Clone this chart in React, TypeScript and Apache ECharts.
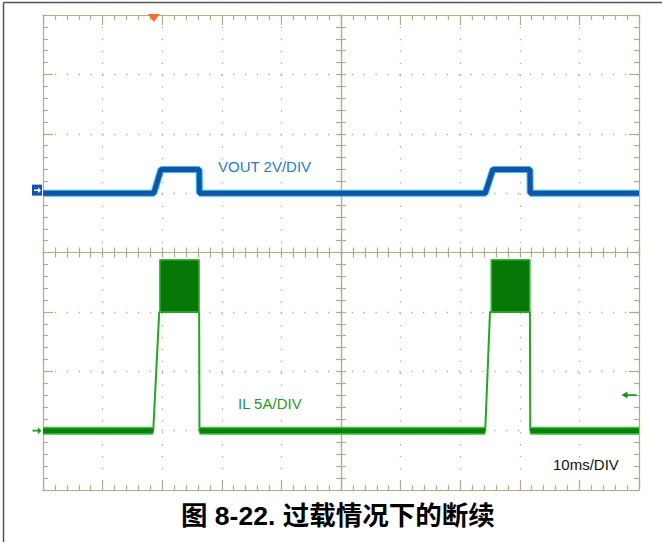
import React, { useEffect, useRef } from "react";
import * as echarts from "echarts";

// ---- Data read from the oscilloscope capture ----
const voutTimeMs = [0, 18.6, 19.8, 26.2, 26.25, 74.2, 75.5, 81.7, 81.75, 100];
const voutVolts = [0, 0, 0.8, 0.8, 0, 0, 0.8, 0.8, 0, 0];

const ilTimeMs = [0, 18.5, 19.5, 26.2, 26.25, 74.2, 75.0, 81.7, 81.75, 100];
const ilAmps = [0, 0, 10, 10, 0, 0, 10, 10, 0, 0];

const ilRippleStartMs = [19.6, 75.2];
const ilRippleEndMs = [26.2, 81.7];
const ilRippleLowAmps = 10;
const ilRippleHighAmps = 14.4;

const triggerTimeMs = 18.6;
const triggerLevelAmps = 3;

const voutScaleVPerDiv = 2;
const ilScaleAPerDiv = 5;
const voutOffsetDiv = 1.0;
const ilOffsetDiv = -3.0;

const timeMinMs = 0;
const timeMaxMs = 100;
const timeDivMs = 10;
const divMin = -4;
const divMax = 4;

const voutLabel = "VOUT 2V/DIV";
const ilLabel = "IL 5A/DIV";
const timebaseLabel = "10ms/DIV";
const caption = "图 8-22. 过载情况下的断续";

// ---- Styling ----
const TAN = "#b2ac8b";
const FONT = "'Liberation Sans', Arial, 'Noto Sans CJK SC', sans-serif";
const GRID = { left: 43, top: 15, width: 596, height: 475 };

const vDiv = (v: number) => voutOffsetDiv + v / voutScaleVPerDiv;
const iDiv = (a: number) => ilOffsetDiv + a / ilScaleAPerDiv;

function makeAxis(
  kind: "x" | "y",
  position: string,
  offset: number,
  inside: boolean,
  majorLen: number,
  minorLen: number,
  split: boolean
): any {
  const isX = kind === "x";
  const spacing = isX ? GRID.width / 50 : GRID.height / 40;
  return {
    type: "value",
    position,
    offset,
    min: isX ? timeMinMs : divMin,
    max: isX ? timeMaxMs : divMax,
    interval: isX ? timeDivMs : 1,
    axisLabel: { show: false },
    axisLine: { show: true, onZero: false, lineStyle: { color: TAN, width: 1.2 } },
    axisTick: { show: true, inside, length: majorLen, lineStyle: { color: TAN, width: 1.2 } },
    minorTick: { show: true, splitNumber: 5, length: minorLen, lineStyle: { color: TAN, width: 1.2 } },
    splitLine: {
      show: split,
      lineStyle: { color: TAN, width: 1.3, type: [1.3, spacing - 1.3] },
    },
    minorSplitLine: { show: false },
  };
}

export default function App() {
  const ref = useRef<HTMLDivElement>(null);

  useEffect(() => {
    if (!ref.current) return;
    const chart = echarts.init(ref.current, undefined, { renderer: "svg" });

    const voutData = voutTimeMs.map((t, i) => [t, vDiv(voutVolts[i])]);
    const ilData = ilTimeMs.map((t, i) => [t, iDiv(ilAmps[i])]);

    // baseline (0 A) stretches of the IL trace, drawn as a thick noisy band
    const ilBaseData: any[] = [];
    for (let i = 0; i < ilTimeMs.length - 1; i++) {
      if (ilAmps[i] === 0 && ilAmps[i + 1] === 0) {
        ilBaseData.push([ilTimeMs[i], iDiv(0)], [ilTimeMs[i + 1], iDiv(0)], [ilTimeMs[i + 1], "-"]);
      }
    }

    const rippleData: any[] = [];
    ilRippleStartMs.forEach((s, i) => {
      const e = ilRippleEndMs[i];
      rippleData.push(
        [s, iDiv(ilRippleLowAmps)],
        [s, iDiv(ilRippleHighAmps)],
        [e, iDiv(ilRippleHighAmps)],
        [e, iDiv(ilRippleLowAmps)],
        [e, "-"]
      );
    });

    const arrowRight = "path://M0,4 H6 V1 L10,5 L6,9 V6 H0 Z";
    const arrowLeft = "path://M10,4 H4 V1 L0,5 L4,9 V6 H10 Z";

    chart.setOption({
      animation: false,
      backgroundColor: "#ffffff",
      grid: { ...GRID, outerBoundsMode: "none" },
      xAxis: [
        makeAxis("x", "bottom", 0, true, 10, 5, true),
        makeAxis("x", "top", 0, true, 10, 5, false),
        makeAxis("x", "bottom", -GRID.height / 2, true, 5, 5, false),
        makeAxis("x", "bottom", -GRID.height / 2, false, 5, 5, false),
      ],
      yAxis: [
        makeAxis("y", "left", 0, true, 10, 5, true),
        makeAxis("y", "right", 0, true, 10, 5, false),
        makeAxis("y", "left", -GRID.width / 2, true, 5, 5, false),
        makeAxis("y", "left", -GRID.width / 2, false, 5, 5, false),
      ],
      series: [
        {
          name: "VOUT glow",
          type: "line",
          data: voutData,
          symbol: "none",
          lineStyle: { color: "#2fc6e2", width: 7 },
          silent: true,
        },
        {
          name: "VOUT",
          type: "line",
          data: voutData,
          symbol: "none",
          lineStyle: { color: "#1553aa", width: 5 },
          markPoint: {
            label: { show: false },
            data: [
              {
                coord: [timeMinMs, vDiv(0)],
                symbol: "rect",
                symbolSize: [10, 11],
                symbolOffset: [-6, -3],
                itemStyle: { color: "#1553aa" },
              },
              {
                coord: [timeMinMs, vDiv(0)],
                symbol: arrowRight,
                symbolSize: [7, 6],
                symbolOffset: [-5.5, -3],
                itemStyle: { color: "#ffffff" },
              },
              {
                coord: [triggerTimeMs, divMax],
                symbol: "triangle",
                symbolRotate: 180,
                symbolSize: [12, 8],
                symbolOffset: [0, 3],
                itemStyle: { color: "#ff6c2c" },
              },
            ],
          },
        },
        {
          name: "IL edges",
          type: "line",
          data: ilData,
          symbol: "none",
          lineStyle: { color: "#22a822", width: 2 },
          silent: true,
        },
        {
          name: "IL glow",
          type: "line",
          data: ilBaseData,
          symbol: "none",
          connectNulls: false,
          lineStyle: { color: "#3fc23f", width: 8 },
          silent: true,
        },
        {
          name: "IL",
          type: "line",
          data: ilBaseData,
          symbol: "none",
          connectNulls: false,
          lineStyle: { color: "#0b800b", width: 5 },
          markPoint: {
            label: { show: false },
            data: [
              {
                coord: [timeMinMs, iDiv(0)],
                symbol: arrowRight,
                symbolSize: [9, 7],
                symbolOffset: [-6, 0],
                itemStyle: { color: "#169a16" },
              },
              {
                coord: [timeMaxMs, iDiv(triggerLevelAmps)],
                symbol: arrowLeft,
                symbolSize: [15, 7],
                symbolOffset: [-10, 0],
                itemStyle: { color: "#169a16" },
              },
            ],
          },
        },
        {
          name: "IL ripple",
          type: "line",
          data: rippleData,
          symbol: "none",
          connectNulls: false,
          lineStyle: { color: "#36bb36", width: 1.5 },
          areaStyle: { color: "#077707", opacity: 1, origin: iDiv(ilRippleLowAmps) },
        },
      ],
      graphic: [
        {
          type: "line",
          shape: { x1: 3.5, y1: 2.5, x2: 662, y2: 2.5 },
          style: { stroke: "#555555", lineWidth: 1.5 },
          silent: true,
        },
        {
          type: "line",
          shape: { x1: 3.5, y1: 2.5, x2: 3.5, y2: 542 },
          style: { stroke: "#555555", lineWidth: 1.5 },
          silent: true,
        },
        {
          type: "text",
          left: 218,
          top: 159,
          style: { text: voutLabel, fill: "#2a7cc6", font: `15px ${FONT}` },
        },
        {
          type: "text",
          left: 238,
          top: 396,
          style: { text: ilLabel, fill: "#1f9a1f", font: `15px ${FONT}` },
        },
        {
          type: "text",
          left: 553,
          top: 457,
          style: { text: timebaseLabel, fill: "#111111", font: `15px ${FONT}` },
        },
        {
          type: "text",
          left: 181,
          top: 503,
          style: { text: caption, fill: "#000000", font: `bold 26.5px ${FONT}` },
        },
      ],
    });

    return () => chart.dispose();
  }, []);

  return (
    <div
      ref={ref}
      style={{ position: "fixed", left: 0, top: 0, width: 662, height: 542, background: "#fff" }}
    />
  );
}
